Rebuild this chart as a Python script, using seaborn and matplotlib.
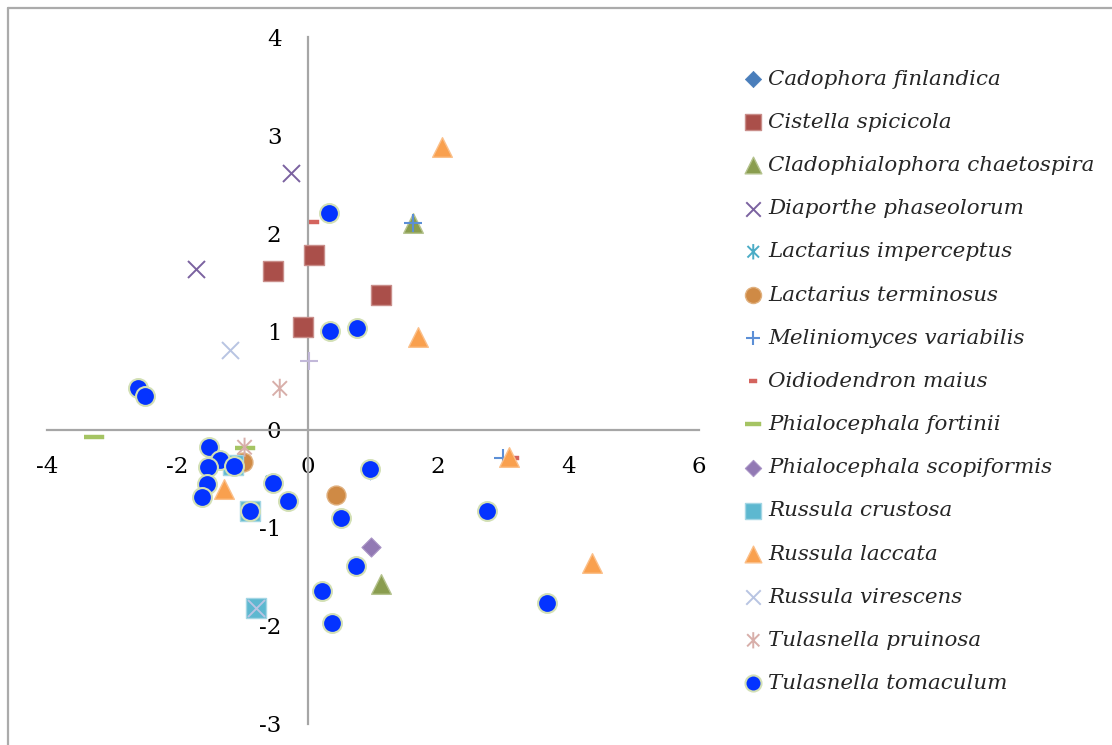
import numpy as np
import pandas as pd
import seaborn as sns
import matplotlib.pyplot as plt
from matplotlib.path import Path
from matplotlib.lines import Line2D

# species scores
species = ['Cadophora finlandica', 'Cistella spicicola', 'Cladophialophora chaetospira',
           'Diaporthe phaseolorum', 'Lactarius imperceptus', 'Lactarius terminosus',
           'Meliniomyces variabilis', 'Oidiodendron maius', 'Phialocephala fortinii',
           'Phialocephala scopiformis', 'Russula crustosa', 'Russula laccata',
           'Russula virescens', 'Tulasnella pruinosa', 'Tulasnella tomaculum']

cadophora_x = [0.95]
cadophora_y = [-0.41]
cistella_x = [-0.54, 0.09, 1.12, -0.08]
cistella_y = [1.62, 1.78, 1.37, 1.05]
cladophialophora_x = [1.61, 1.13]
cladophialophora_y = [2.10, -1.57]
diaporthe_x = [-0.26, -1.71]
diaporthe_y = [2.61, 1.64]
imperceptus_x = [-0.54]
imperceptus_y = [-0.54]
terminosus_x = [0.43, -1.0]
terminosus_y = [-0.67, -0.33]
meliniomyces_x = [1.61, 2.99]
meliniomyces_y = [2.10, -0.29]
oidiodendron_x = [0.10, 3.16]
oidiodendron_y = [2.12, -0.29]
fortinii_x = [-3.28, -0.97]
fortinii_y = [-0.08, -0.19]
scopiformis_x = [0.97]
scopiformis_y = [-1.20]
crustosa_x = [-1.15, -0.89, -0.80]
crustosa_y = [-0.36, -0.83, -1.82]
laccata_x = [2.06, 1.69, 3.08, 4.36, -1.29]
laccata_y = [2.88, 0.94, -0.28, -1.36, -0.61]
virescens_x = [-1.20, -0.80]
virescens_y = [0.81, -1.82]
pruinosa_x = [-0.43, -0.97]
pruinosa_y = [0.42, -0.18]
tomaculum_x = [0.32, 0.34, 0.75, -2.61, -2.49, -1.52, -1.35, -1.53, -1.13, -1.55, -1.63,
               -0.89, -0.54, -0.31, 0.95, 0.51, 0.74, 0.22, 0.37, 2.75, 3.67]
tomaculum_y = [2.21, 1.00, 1.04, 0.42, 0.34, -0.18, -0.31, -0.38, -0.37, -0.55, -0.69,
               -0.83, -0.54, -0.73, -0.40, -0.90, -1.39, -1.64, -1.97, -0.83, -1.77]
# extra series with no legend entry
extra_x = [0.02]
extra_y = [0.70]

xs = [cadophora_x, cistella_x, cladophialophora_x, diaporthe_x, imperceptus_x, terminosus_x,
      meliniomyces_x, oidiodendron_x, fortinii_x, scopiformis_x, crustosa_x, laccata_x,
      virescens_x, pruinosa_x, tomaculum_x]
ys = [cadophora_y, cistella_y, cladophialophora_y, diaporthe_y, imperceptus_y, terminosus_y,
      meliniomyces_y, oidiodendron_y, fortinii_y, scopiformis_y, crustosa_y, laccata_y,
      virescens_y, pruinosa_y, tomaculum_y]

# excel-like markers
asterisk = Path([(-0.75, -0.75), (0.75, 0.75), (-0.75, 0.75), (0.75, -0.75), (0, -1), (0, 1)],
                [Path.MOVETO, Path.LINETO, Path.MOVETO, Path.LINETO, Path.MOVETO, Path.LINETO])
short_dash = [(-1, -0.4), (1, -0.4), (1, 0.4), (-1, 0.4)]
long_dash = [(-1, -0.22), (1, -0.22), (1, 0.22), (-1, 0.22)]

# (marker, face, edge, size, linewidth)
styles = [
    ('D', '#4A7EBB', '#4A7EBB', 95, 0.5),
    ('s', '#AA4F4A', '#C98E8A', 200, 1.0),
    ('^', '#8A9D4F', '#B5C38E', 200, 1.0),
    ('x', '#7B62A0', '#7B62A0', 150, 1.4),
    (asterisk, 'none', '#4BACC6', 170, 1.4),
    ('o', '#CF8A45', '#E0B07E', 185, 1.0),
    ('+', '#5C8FD6', '#5C8FD6', 150, 1.5),
    (short_dash, '#D4645E', '#D4645E', 55, 0.3),
    (long_dash, '#A5C463', '#A5C463', 200, 0.3),
    ('D', '#9279B4', '#A994C6', 95, 0.8),
    ('s', '#5DB8D0', '#A3D6E4', 200, 1.0),
    ('^', '#F9A04E', '#FBC08A', 200, 1.0),
    ('x', '#B8C4E2', '#B8C4E2', 150, 1.4),
    (asterisk, 'none', '#D8AFAA', 190, 1.4),
    ('o', '#0433FF', '#D3E0B5', 185, 1.5),
]

sns.set_style('white')
plt.rcParams['font.family'] = ['DejaVu Serif']
plt.rcParams['axes.unicode_minus'] = False

fig = plt.figure(figsize=(11.12, 7.45), dpi=100)
ax = fig.add_axes([47 / 1112, 21 / 745, 652 / 1112, 687 / 745])

for i, name in enumerate(species):
    m, fc, ec, s, lw = styles[i]
    d = pd.DataFrame({'x': xs[i], 'y': ys[i]})
    sns.scatterplot(data=d, x='x', y='y', marker=m, color=ec, facecolor=fc, edgecolor=ec,
                    s=s, linewidth=lw, label=name, ax=ax, zorder=3 + i)

d = pd.DataFrame({'x': extra_x, 'y': extra_y})
sns.scatterplot(data=d, x='x', y='y', marker='+', color='#C2B8D9', s=150, linewidth=1.5,
                label='_nolegend_', ax=ax, zorder=20)

ax.set_xlim(-4, 6)
ax.set_ylim(-3, 4)
ax.set_xticks([-4, -2, 0, 2, 4, 6])
ax.set_yticks(range(-3, 5))
ax.set_xlabel('')
ax.set_ylabel('')
for side in ['top', 'right']:
    ax.spines[side].set_visible(False)
for side in ['left', 'bottom']:
    ax.spines[side].set_position(('data', 0))
    ax.spines[side].set_color('#A6A6A6')
    ax.spines[side].set_linewidth(1.6)
ax.tick_params(axis='both', direction='out', length=6, width=1.4, color='#A6A6A6',
               labelsize=16.5, pad=13, labelcolor='black')
ax.patch.set_alpha(0)

leg = ax.legend(loc='upper left', bbox_to_anchor=(734 / 1112, 1 - 59 / 745),
                bbox_transform=fig.transFigure, frameon=False, markerscale=0.85,
                scatterpoints=1, handlelength=0.8, handletextpad=0.3, borderpad=0,
                labelspacing=1.13, prop={'family': 'DejaVu Serif', 'style': 'italic', 'size': 15.4})

# chart frame (top and left edges)
fig.add_artist(Line2D([8 / 1112, 1], [1 - 8 / 745, 1 - 8 / 745], transform=fig.transFigure,
                      color='#ABABAB', lw=1.6))
fig.add_artist(Line2D([8 / 1112, 8 / 1112], [0, 1 - 8 / 745], transform=fig.transFigure,
                      color='#ABABAB', lw=1.6))

fig.savefig('out.png', dpi=100)
